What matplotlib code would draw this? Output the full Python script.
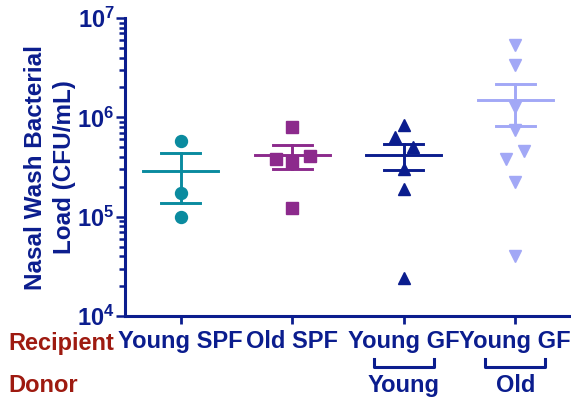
import numpy as np
import matplotlib
matplotlib.use("Agg")
import matplotlib.pyplot as plt

plt.rcParams['font.family'] = ['Liberation Sans', 'DejaVu Sans']
plt.rcParams['font.weight'] = 'bold'

navy = "#0b1d8e"
dark_red = "#9e1a10"

# Bacterial load per mouse (CFU/mL)
young_spf = [5.8e5, 1.75e5, 1.0e5]
old_spf = [8.05e5, 3.8e5, 3.55e5, 4.1e5, 1.23e5]
young_gf_young = [8.4e5, 6.35e5, 5.05e5, 3.0e5, 1.9e5, 2.4e4]
young_gf_old = [5.4e6, 3.37e6, 1.28e6, 7.5e5, 4.55e5, 3.85e5, 2.23e5, 4.0e4]

groups = [young_spf, old_spf, young_gf_young, young_gf_old]
recipients = ["Young SPF", "Old SPF", "Young GF", "Young GF"]
donors = {3: "Young", 4: "Old"}

# horizontal spread of points that would otherwise overlap
jitter = [
    [0, 0, 0],
    [0, -0.15, 0, 0.16, 0],
    [0, -0.08, 0.08, 0, 0, 0],
    [0, 0, 0, 0, 0.08, -0.08, 0, 0],
]
colors = ["#0a8b9f", "#8c2a8c", "#0b1d8e", "#a2a8f6"]
markers = ["o", "s", "^", "v"]
msizes = [8.6, 8.4, 8.2, 8.2]

fs = 17

fig = plt.figure(figsize=(5.71, 3.99), dpi=100)
ax = fig.add_axes([125 / 571, 1 - 316 / 399, 446 / 571, 298 / 399])

for i, vals in enumerate(groups):
    pos = i + 1
    v = np.array(vals)
    m = v.mean()
    sem = v.std(ddof=1) / np.sqrt(len(v))
    c = colors[i]
    ax.plot(pos + np.array(jitter[i]), v, linestyle="none", marker=markers[i],
            ms=msizes[i], color=c, zorder=3)
    ax.plot([pos - 0.335, pos + 0.335], [m, m], color=c, lw=2.1, zorder=2)
    ax.plot([pos, pos], [m - sem, m + sem], color=c, lw=2.1, zorder=2)
    for y in (m - sem, m + sem):
        ax.plot([pos - 0.177, pos + 0.177], [y, y], color=c, lw=2.1, zorder=2)

ax.set_yscale("log")
ax.set_ylim(1e4, 1e7)
ax.set_xlim(0.5, 4.5)

for s in ("top", "right"):
    ax.spines[s].set_visible(False)
for s in ("left", "bottom"):
    ax.spines[s].set_color(navy)
    ax.spines[s].set_linewidth(2.2)

ax.set_xticks(range(1, 5))
ax.set_xticklabels(recipients)
ax.tick_params(axis="x", direction="out", length=6, width=2.0, color=navy,
               labelcolor=navy, labelsize=fs, pad=4)
ax.tick_params(axis="y", which="major", direction="out", length=6.5, width=1.8,
               color=navy, labelcolor=navy, labelsize=fs, pad=1)
ax.tick_params(axis="y", which="minor", direction="out", length=4.5, width=1.8,
               color=navy)

ax.set_ylabel("Nasal Wash Bacterial\nLoad (CFU/mL)", color=navy, fontsize=17.5,
              fontweight="bold", labelpad=1, linespacing=1.3)

# recipient / donor row headers
fig.text(8 / 571, 1 - 350 / 399, "Recipient", color=dark_red, fontsize=fs,
         fontweight="bold", va="baseline", ha="left")
fig.text(8 / 571, 1 - 392 / 399, "Donor", color=dark_red, fontsize=fs,
         fontweight="bold", va="baseline", ha="left")

# donor brackets under the germ-free recipients
tr = ax.get_xaxis_transform()
for pos, name in donors.items():
    y0, y1 = (316 - 359) / 298, (316 - 367) / 298
    ax.plot([pos - 0.27, pos - 0.27, pos + 0.27, pos + 0.27], [y0, y1, y1, y0],
            color=navy, lw=2.2, transform=tr, clip_on=False)
    ax.text(pos, (316 - 392) / 298, name, color=navy, fontsize=fs,
            fontweight="bold", ha="center", va="baseline", transform=tr)

fig.savefig("out.png", dpi=100)
